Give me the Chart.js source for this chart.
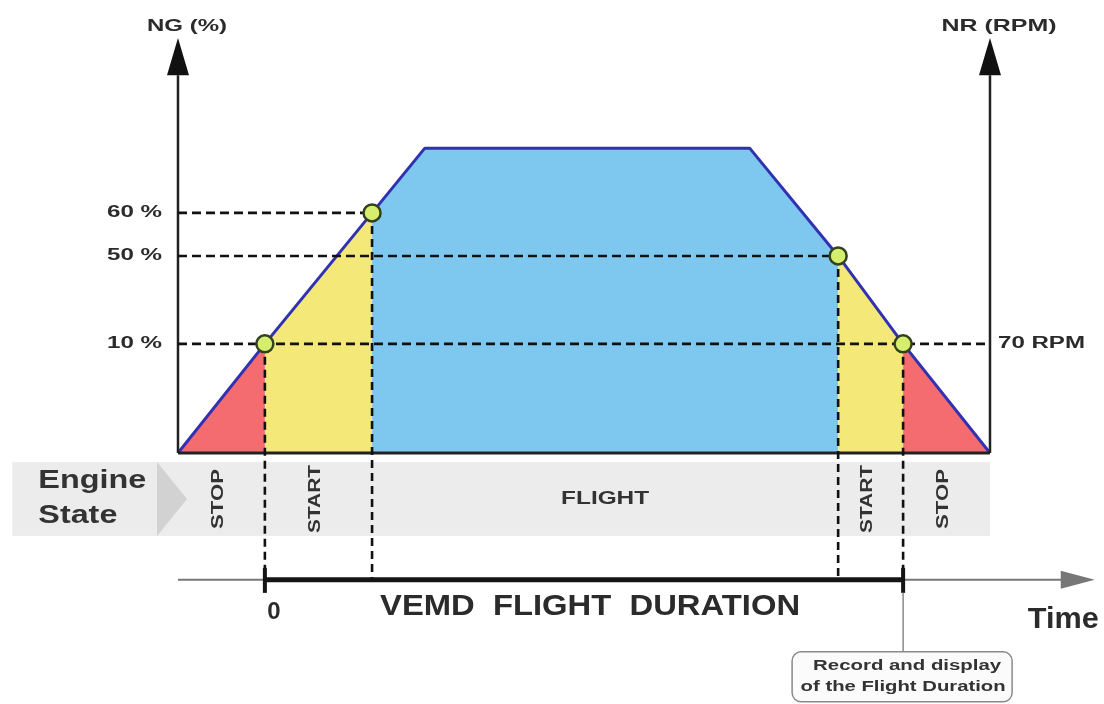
<!DOCTYPE html>
<html>
<head>
<meta charset="utf-8">
<title>VEMD flight duration</title>
<script src="https://cdn.jsdelivr.net/npm/chart.js@4.4.0/dist/chart.umd.min.js"></script>
<style>
  html, body { margin: 0; padding: 0; background: #fff; }
  #wrap { width: 1104px; height: 704px; }
</style>
</head>
<body>
<div id="wrap"><canvas id="vemd" width="1104" height="704"></canvas></div>
<script>
// engine NG profile (schematic time units, schematic level units)
var profileTime = [0, 10.7, 23.9, 30.4, 70.4, 81.3, 89.3, 100];
var profileLevel = [0, 24.1, 53.0, 67.3, 67.3, 43.5, 24.1, 0];

// engine states and where they change
var stateNames = ['STOP', 'START', 'FLIGHT', 'START', 'STOP'];
var stateBounds = [0, 10.7, 23.9, 81.3, 89.3, 100];

// thresholds read on the NG axis
var thresholdLabels = ['10 %', '50 %', '60 %'];
var thresholdLevels = [24.1, 43.5, 53.0];
var rpmLabel = '70 RPM';
var rpmLevel = 24.1;

// crossing points
var markerTimes = [10.7, 23.9, 81.3, 89.3];
var markerLevels = [24.1, 53.0, 43.5, 24.1];

// flight duration counter
var durationStart = 10.7;
var durationEnd = 89.3;
var durationZero = '0';
var durationLabel = 'VEMD  FLIGHT  DURATION';
var calloutLines = ['Record and display', 'of the Flight Duration'];

(function () {
  'use strict';

  var FONT = '"Liberation Sans", Arial, sans-serif';
  var TEXT = '#2b2b2b';
  var stateColors = ['#f46c70', '#f4e879', '#7ec8ef', '#f4e879', '#f46c70'];

  // scale window (schematic units)
  var xMin = -21.92, xMax = 114.04;
  var yMin = -55.4, yMax = 100;
  var axisTop = 91.6, arrowBase = 83.4, titleLevel = 94.3;
  var bandTop = -2.0, bandBottom = -18.3, bandLeft = -20.4;
  var timeAxisLevel = -28.0, timeArrowTip = 112.9;

  function segmentPoints(a, b) {
    var pts = [];
    for (var i = 0; i < profileTime.length; i++) {
      if (profileTime[i] >= a && profileTime[i] <= b) pts.push({ x: profileTime[i], y: profileLevel[i] });
    }
    return pts;
  }

  function fitText(ctx, text, x, y, font, width, align) {
    ctx.save();
    ctx.font = font;
    var w = ctx.measureText(text).width;
    ctx.translate(x, y);
    if (width) ctx.scale(width / w, 1);
    ctx.textAlign = align || 'center';
    ctx.textBaseline = 'middle';
    ctx.fillText(text, 0, 0);
    ctx.restore();
  }

  function upText(ctx, text, x, y, font, len) {
    ctx.save();
    ctx.font = font;
    var w = ctx.measureText(text).width;
    ctx.translate(x, y);
    ctx.rotate(-Math.PI / 2);
    ctx.scale(len / w, 1);
    ctx.textAlign = 'center';
    ctx.textBaseline = 'middle';
    ctx.fillText(text, 0, 0);
    ctx.restore();
  }

  function line(ctx, x1, y1, x2, y2) {
    ctx.beginPath();
    ctx.moveTo(x1, y1);
    ctx.lineTo(x2, y2);
    ctx.stroke();
  }

  var diagramPlugin = {
    id: 'engineDiagram',
    beforeDraw: function (chart) {
      var ctx = chart.ctx;
      ctx.save();
      ctx.fillStyle = '#fff';
      ctx.fillRect(0, 0, chart.width, chart.height);
      ctx.restore();
    },
    beforeDatasetsDraw: function (chart) {
      var ctx = chart.ctx, xs = chart.scales.x, ys = chart.scales.y;
      var px = function (v) { return xs.getPixelForValue(v); };
      var py = function (v) { return ys.getPixelForValue(v); };
      ctx.save();

      // engine state band
      ctx.fillStyle = '#ececec';
      ctx.fillRect(px(bandLeft), py(bandTop), px(100) - px(bandLeft), py(bandBottom) - py(bandTop));
      var midY = (py(bandTop) + py(bandBottom)) / 2;
      ctx.fillStyle = '#d2d2d2';
      ctx.beginPath();
      ctx.moveTo(px(0) - 21, py(bandTop));
      ctx.lineTo(px(0) + 9, midY);
      ctx.lineTo(px(0) - 21, py(bandBottom));
      ctx.closePath();
      ctx.fill();

      ctx.fillStyle = '#333';
      fitText(ctx, 'Engine', px(bandLeft) + 26, midY - 18, 'bold 25px ' + FONT, 108, 'left');
      fitText(ctx, 'State', px(bandLeft) + 26, midY + 17, 'bold 25px ' + FONT, 79, 'left');

      for (var s = 0; s < stateNames.length; s++) {
        var cx = (px(stateBounds[s]) + px(stateBounds[s + 1])) / 2;
        if (stateNames[s] === 'FLIGHT') {
          fitText(ctx, stateNames[s], cx, midY, 'bold 18px ' + FONT, 88, 'center');
        } else {
          upText(ctx, stateNames[s], cx - 3, midY, 'bold 17px ' + FONT, stateNames[s] === 'STOP' ? 60 : 68);
        }
      }
      ctx.restore();
    },
    beforeDatasetDraw: function (chart, args) {
      if (args.index !== 0) return;
      var ctx = chart.ctx, xs = chart.scales.x, ys = chart.scales.y;
      var px = function (v) { return xs.getPixelForValue(v); };
      var py = function (v) { return ys.getPixelForValue(v); };
      ctx.save();

      // axes and base line
      ctx.strokeStyle = '#222';
      ctx.lineWidth = 3;
      line(ctx, px(0), py(0), px(100), py(0));
      ctx.lineWidth = 2.5;
      line(ctx, px(0), py(0), px(0), py(arrowBase));
      line(ctx, px(100), py(0), px(100), py(arrowBase));
      ctx.fillStyle = '#111';
      [0, 100].forEach(function (v) {
        ctx.beginPath();
        ctx.moveTo(px(v), py(axisTop));
        ctx.lineTo(px(v) + 11, py(arrowBase));
        ctx.lineTo(px(v) - 11, py(arrowBase));
        ctx.closePath();
        ctx.fill();
      });

      // dashed guides
      ctx.strokeStyle = '#111';
      ctx.lineWidth = 2.6;
      ctx.setLineDash([9, 5]);
      thresholdLevels.forEach(function (lv) {
        var reach = 0;
        markerLevels.forEach(function (ml, i) { if (ml === lv) reach = Math.max(reach, markerTimes[i]); });
        if (lv === rpmLevel) reach = 100;
        line(ctx, px(0), py(lv), px(reach), py(lv));
      });
      ctx.setLineDash([8, 5]);
      markerTimes.forEach(function (t, i) {
        line(ctx, px(t), py(markerLevels[i]), px(t), py(timeAxisLevel));
      });
      ctx.restore();
    },
    afterDatasetsDraw: function (chart) {
      var ctx = chart.ctx, xs = chart.scales.x, ys = chart.scales.y;
      var px = function (v) { return xs.getPixelForValue(v); };
      var py = function (v) { return ys.getPixelForValue(v); };
      ctx.save();
      ctx.fillStyle = TEXT;

      fitText(ctx, 'NG (%)', px(0) + 9, py(titleLevel), 'bold 17px ' + FONT, 80, 'center');
      fitText(ctx, 'NR (RPM)', px(100) + 9, py(titleLevel), 'bold 17px ' + FONT, 115, 'center');

      thresholdLabels.forEach(function (lab, i) {
        fitText(ctx, lab, px(0) - 16, py(thresholdLevels[i]), 'bold 16px ' + FONT, 55, 'right');
      });
      fitText(ctx, rpmLabel, px(100) + 8, py(rpmLevel), 'bold 16px ' + FONT, 87, 'left');

      // time axis
      var ty = py(timeAxisLevel);
      ctx.strokeStyle = '#777';
      ctx.lineWidth = 2;
      line(ctx, px(0), ty, px(timeArrowTip) - 30, ty);
      ctx.fillStyle = '#777';
      ctx.beginPath();
      ctx.moveTo(px(timeArrowTip), ty);
      ctx.lineTo(px(timeArrowTip) - 34, ty - 9);
      ctx.lineTo(px(timeArrowTip) - 34, ty + 9);
      ctx.closePath();
      ctx.fill();

      ctx.strokeStyle = '#151515';
      ctx.lineWidth = 5;
      line(ctx, px(durationStart), ty, px(durationEnd), ty);
      ctx.lineWidth = 4;
      line(ctx, px(durationStart), ty - 12, px(durationStart), ty + 13);
      line(ctx, px(durationEnd), ty - 12, px(durationEnd), ty + 13);

      ctx.fillStyle = TEXT;
      fitText(ctx, durationZero, px(durationStart) + 9, ty + 33, 'bold 24px ' + FONT, null, 'center');
      fitText(ctx, durationLabel, px(23.9) + 8, ty + 27, 'bold 30px ' + FONT, 420, 'left');
      fitText(ctx, 'Time', px(timeArrowTip) + 4, ty + 40, 'bold 30px ' + FONT, 71, 'right');

      // callout
      var cx = px(durationEnd);
      ctx.strokeStyle = '#8a8a8a';
      ctx.lineWidth = 1.5;
      line(ctx, cx, ty + 13, cx, ty + 72);
      var bx = cx - 111, bw = 220, by = ty + 72, bh = 50;
      ctx.fillStyle = '#fbfbfb';
      ctx.beginPath();
      ctx.roundRect(bx, by, bw, bh, 9);
      ctx.fill();
      ctx.stroke();
      ctx.fillStyle = '#333';
      fitText(ctx, calloutLines[0], cx + 4, by + 14, 'bold 14px ' + FONT, 188, 'center');
      fitText(ctx, calloutLines[1], cx, by + 35, 'bold 14px ' + FONT, 205, 'center');
      ctx.restore();
    }
  };

  var datasets = [
    {
      label: 'crossings',
      data: markerTimes.map(function (t, i) { return { x: t, y: markerLevels[i] }; }),
      showLine: false,
      pointRadius: 8.5,
      pointBackgroundColor: '#d6ee6e',
      pointBorderColor: '#33401f',
      pointBorderWidth: 2.5
    },
    {
      label: 'NG',
      data: profileTime.map(function (t, i) { return { x: t, y: profileLevel[i] }; }),
      borderColor: '#3131b2',
      borderWidth: 3,
      borderJoinStyle: 'round',
      pointRadius: 0,
      tension: 0,
      fill: false
    }
  ];
  stateNames.forEach(function (name, s) {
    datasets.push({
      label: name,
      data: segmentPoints(stateBounds[s], stateBounds[s + 1]),
      backgroundColor: stateColors[s],
      borderWidth: 0,
      pointRadius: 0,
      tension: 0,
      fill: 'origin'
    });
  });

  new Chart(document.getElementById('vemd'), {
    type: 'line',
    data: { datasets: datasets },
    options: {
      responsive: false,
      animation: false,
      events: [],
      layout: { padding: 0, autoPadding: false },
      plugins: { legend: { display: false }, tooltip: { enabled: false } },
      scales: {
        x: { type: 'linear', display: false, min: xMin, max: xMax },
        y: { type: 'linear', display: false, min: yMin, max: yMax }
      }
    },
    plugins: [diagramPlugin]
  });
})();
</script>
</body>
</html>
